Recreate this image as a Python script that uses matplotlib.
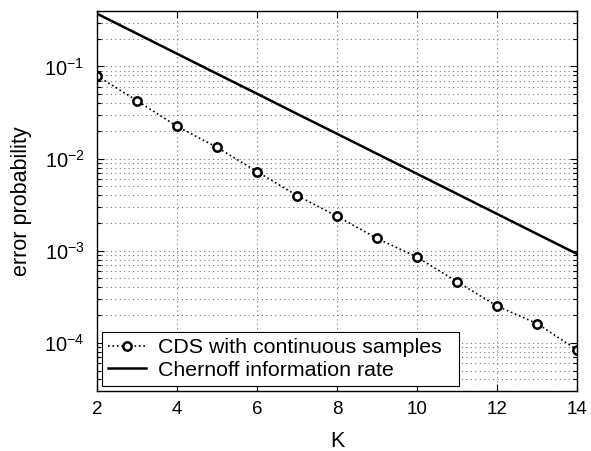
import matplotlib
matplotlib.use("Agg")
import matplotlib.pyplot as plt
from matplotlib.ticker import LogLocator, FixedLocator, NullLocator

plt.rcParams['font.family'] = ['Liberation Sans', 'DejaVu Sans']
plt.rcParams['mathtext.default'] = 'regular'

K = [2, 3, 4, 5, 6, 7, 8, 9, 10, 11, 12, 13, 14]
cds = [0.0792, 0.0425, 0.0224, 0.01325, 0.00723, 0.00397, 0.00237,
       0.00136, 0.000853, 0.000461, 0.000251, 0.000162, 0.000084]
chernoff = [0.374, 0.227, 0.1375, 0.0833, 0.0506, 0.0306, 0.0186,
            0.01127, 0.00684, 0.00414, 0.00251, 0.00152, 0.000923]
xticks = [2, 4, 6, 8, 10, 12, 14]
labels = ['CDS with continuous samples', 'Chernoff information rate']

fig = plt.figure(figsize=(5.91, 4.51), dpi=100)
ax = fig.add_axes([97/591, 1-391/451, 480/591, 380/451])

ax.plot(K, cds, linestyle=':', color='black', linewidth=1.2, marker='o',
        markersize=6, markerfacecolor='white', markeredgecolor='black',
        markeredgewidth=1.8, label=labels[0])
ax.plot(K, chernoff, linestyle='-', color='black', linewidth=1.8, label=labels[1])

ax.set_yscale('log')
ax.set_xlim(2, 14)
ax.set_ylim(3e-5, 0.4)
ax.xaxis.set_major_locator(FixedLocator(xticks))
ax.xaxis.set_minor_locator(NullLocator())
ax.yaxis.set_major_locator(LogLocator(base=10, numticks=10))
ax.yaxis.set_minor_locator(LogLocator(base=10, subs=range(2, 10), numticks=10))

ax.grid(True, which='major', linestyle=(0, (1, 3)), color='#777777', linewidth=0.8)
ax.grid(True, which='minor', axis='y', linestyle=(0, (1, 3)), color='#777777', linewidth=0.8)

ax.tick_params(which='both', direction='in', top=True, right=True)
ax.tick_params(axis='x', labelsize=13.5, pad=7.5)
ax.tick_params(axis='y', labelsize=14.5, pad=9)
ax.tick_params(which='major', length=5, width=0.8)
ax.tick_params(which='minor', length=3, width=0.8)
for s in ax.spines.values():
    s.set_linewidth(1.0)
    s.set_color('black')

ax.set_xlabel('K', fontsize=15.5, labelpad=9)
ax.set_ylabel('error probability', fontsize=15.5)
ax.yaxis.set_label_coords(-0.135, 0.5)

leg = ax.legend(loc='lower left', bbox_to_anchor=(5/480, 5/380, 357/480, 0.2),
                mode='expand', fontsize=15.4, frameon=True, fancybox=False,
                edgecolor='black', framealpha=1, borderaxespad=0.0,
                handlelength=1.75, borderpad=0.3, labelspacing=0.15,
                handletextpad=0.57)
leg.get_frame().set_linewidth(0.8)

fig.savefig('out.png', dpi=100)
